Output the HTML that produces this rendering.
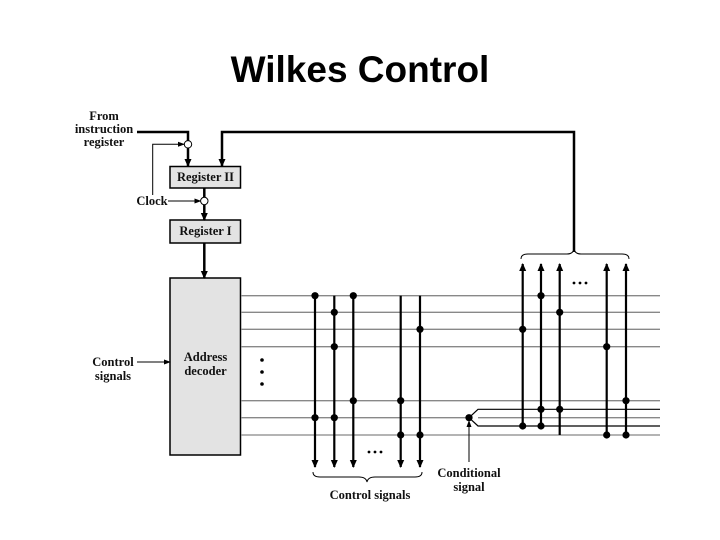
<!DOCTYPE html>
<html><head><meta charset="utf-8"><style>
html,body{margin:0;padding:0;background:#fff;}
svg{display:block;}
.t{font-family:"Liberation Serif",serif;font-weight:bold;font-size:12.5px;fill:#111;}
</style></head><body>
<svg width="720" height="540" viewBox="0 0 720 540" xmlns="http://www.w3.org/2000/svg">
<defs>
<marker id="a" markerWidth="8" markerHeight="8" refX="7" refY="4" orient="auto" markerUnits="userSpaceOnUse"><path d="M0,0.5 L8,4 L0,7.5 z" fill="#000"/></marker>
<marker id="s" markerWidth="7" markerHeight="6" refX="6" refY="3" orient="auto" markerUnits="userSpaceOnUse"><path d="M0,0.5 L7,3 L0,5.5 z" fill="#000"/></marker>
</defs>
<text x="360" y="82" text-anchor="middle" font-family="Liberation Sans,sans-serif" font-weight="bold" font-size="37" fill="#000">Wilkes Control</text>

<text class="t" x="104" y="120" text-anchor="middle">From</text>
<text class="t" x="104" y="133" text-anchor="middle">instruction</text>
<text class="t" x="104" y="146" text-anchor="middle">register</text>
<text class="t" x="152" y="205" text-anchor="middle">Clock</text>
<text class="t" x="113" y="366" text-anchor="middle">Control</text>
<text class="t" x="113" y="380" text-anchor="middle">signals</text>

<rect x="170" y="166.5" width="70.5" height="21.5" fill="#e3e3e3" stroke="#000" stroke-width="1.5"/>
<text class="t" x="205.5" y="181" text-anchor="middle">Register II</text>
<rect x="170" y="220" width="70.5" height="23" fill="#e3e3e3" stroke="#000" stroke-width="1.5"/>
<text class="t" x="205.5" y="235" text-anchor="middle">Register I</text>
<rect x="170" y="278" width="70.5" height="177" fill="#e3e3e3" stroke="#000" stroke-width="1.5"/>
<text class="t" x="205.5" y="361" text-anchor="middle">Address</text>
<text class="t" x="205.5" y="375" text-anchor="middle">decoder</text>

<g stroke="#000" fill="none">
<path d="M137 132 H188 V140.5" stroke-width="2.5"/>
<path d="M188 148 V166" stroke-width="2.5" marker-end="url(#a)"/>
<path d="M152.7 195 V144.3 H184" stroke-width="1" marker-end="url(#s)"/>
<path d="M168 201 H200.5" stroke-width="1" marker-end="url(#s)"/>
<path d="M204.3 188 V197.5" stroke-width="2.5"/>
<path d="M204.3 204.5 V220" stroke-width="2.5" marker-end="url(#a)"/>
<path d="M204.3 243 V278" stroke-width="2.5" marker-end="url(#a)"/>
<path d="M574 252 V132 H222 V166" stroke-width="2.5" marker-end="url(#a)"/>
<path d="M137 362 H170" stroke-width="1" marker-end="url(#s)"/>
</g>
<circle cx="188" cy="144.3" r="3.7" fill="#fff" stroke="#000" stroke-width="1"/>
<circle cx="204.3" cy="201" r="3.7" fill="#fff" stroke="#000" stroke-width="1"/>

<g stroke="#888" stroke-width="1.3">
<line x1="241" y1="295.7" x2="660" y2="295.7"/>
<line x1="241" y1="312.3" x2="660" y2="312.3"/>
<line x1="241" y1="329.3" x2="660" y2="329.3"/>
<line x1="241" y1="346.7" x2="660" y2="346.7"/>
<line x1="241" y1="400.7" x2="660" y2="400.7"/>
<line x1="241" y1="417.7" x2="469" y2="417.7"/>
<line x1="478" y1="417.7" x2="660" y2="417.7"/>
<line x1="241" y1="435" x2="660" y2="435"/>
</g>
<g stroke="#000" stroke-width="1.2" fill="none">
<path d="M469 417.7 L478 409.3 H660"/>
<path d="M469 417.7 L478 426 H660"/>
</g>
<g fill="#000">
<circle cx="262" cy="360" r="1.8"/><circle cx="262" cy="372" r="1.8"/><circle cx="262" cy="384" r="1.8"/>
<circle cx="369" cy="452" r="1.4"/><circle cx="375" cy="452" r="1.4"/><circle cx="381" cy="452" r="1.4"/>
<circle cx="574" cy="283" r="1.4"/><circle cx="580" cy="283" r="1.4"/><circle cx="586" cy="283" r="1.4"/>
</g>

<g stroke="#000" stroke-width="2.2" marker-end="url(#a)">
<line x1="315" y1="295.7" x2="315" y2="467"/>
<line x1="334.3" y1="295.7" x2="334.3" y2="467"/>
<line x1="353.3" y1="295.7" x2="353.3" y2="467"/>
<line x1="400.7" y1="295.7" x2="400.7" y2="467"/>
<line x1="420" y1="295.7" x2="420" y2="467"/>
</g>
<g stroke="#000" stroke-width="2.2" marker-end="url(#a)">
<line x1="522.7" y1="426" x2="522.7" y2="264"/>
<line x1="541" y1="426" x2="541" y2="264"/>
<line x1="559.7" y1="435" x2="559.7" y2="264"/>
<line x1="606.7" y1="435" x2="606.7" y2="264"/>
<line x1="626" y1="435" x2="626" y2="264"/>
</g>
<line x1="469" y1="462" x2="469" y2="421" stroke="#000" stroke-width="1" marker-end="url(#s)"/>

<g fill="#000">
<circle cx="315" cy="295.7" r="3.6"/><circle cx="315" cy="417.7" r="3.6"/>
<circle cx="334.3" cy="312.3" r="3.6"/><circle cx="334.3" cy="346.7" r="3.6"/><circle cx="334.3" cy="417.7" r="3.6"/>
<circle cx="353.3" cy="295.7" r="3.6"/><circle cx="353.3" cy="400.7" r="3.6"/>
<circle cx="400.7" cy="400.7" r="3.6"/><circle cx="400.7" cy="435" r="3.6"/>
<circle cx="420" cy="329.3" r="3.6"/><circle cx="420" cy="435" r="3.6"/>
<circle cx="469" cy="417.7" r="3.6"/>
<circle cx="522.7" cy="329.3" r="3.6"/><circle cx="522.7" cy="426" r="3.6"/>
<circle cx="541" cy="295.7" r="3.6"/><circle cx="541" cy="409.3" r="3.6"/><circle cx="541" cy="426" r="3.6"/>
<circle cx="559.7" cy="312.3" r="3.6"/><circle cx="559.7" cy="409.3" r="3.6"/>
<circle cx="606.7" cy="346.7" r="3.6"/><circle cx="606.7" cy="435" r="3.6"/>
<circle cx="626" cy="400.7" r="3.6"/><circle cx="626" cy="435" r="3.6"/>
</g>

<g stroke="#000" stroke-width="1" fill="none">
<path d="M313 472 Q313 477 320 477 H359 Q366 477 367 482 Q368 477 375 477 H415 Q422 477 422 472"/>
<path d="M521 259 Q521 254 528 254 H567 Q573 254 574 249 Q575 254 581 254 H622 Q629 254 629 259"/>
</g>

<text class="t" x="370" y="499" text-anchor="middle">Control signals</text>
<text class="t" x="469" y="477" text-anchor="middle">Conditional</text>
<text class="t" x="469" y="491" text-anchor="middle">signal</text>
</svg>
</body></html>
